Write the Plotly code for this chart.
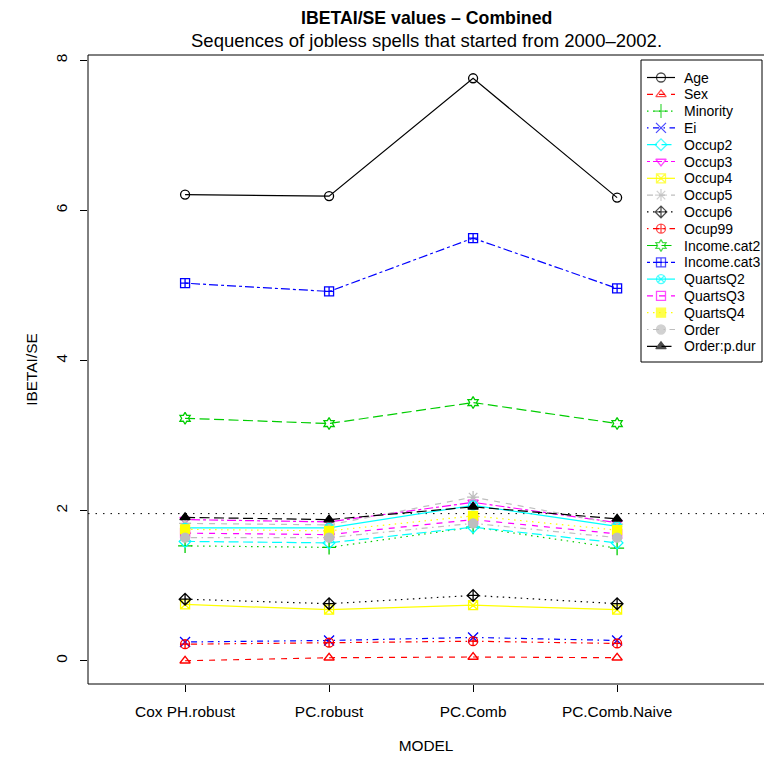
import plotly.graph_objects as go

models = ["Cox PH.robust", "PC.robust", "PC.Comb", "PC.Comb.Naive"]
xpos = [1, 2, 3, 4]

series_names = ["Age", "Sex", "Minority", "Ei", "Occup2", "Occup3", "Occup4", "Occup5",
                "Occup6", "Ocup99", "Income.cat2", "Income.cat3", "QuartsQ2", "QuartsQ3",
                "QuartsQ4", "Order", "Order:p.dur"]

age = [6.21, 6.19, 7.76, 6.17]
sex = [0.00, 0.04, 0.05, 0.04]
minority = [1.53, 1.51, 1.78, 1.50]
ei = [0.25, 0.27, 0.31, 0.27]
occup2 = [1.59, 1.57, 1.78, 1.57]
occup3 = [1.88, 1.85, 2.11, 1.84]
occup4 = [0.75, 0.68, 0.74, 0.68]
occup5 = [1.83, 1.81, 2.18, 1.82]
occup6 = [0.82, 0.76, 0.87, 0.76]
ocup99 = [0.22, 0.24, 0.26, 0.23]
income_cat2 = [3.23, 3.16, 3.44, 3.16]
income_cat3 = [5.03, 4.92, 5.63, 4.96]
quartsq2 = [1.77, 1.77, 2.07, 1.79]
quartsq3 = [1.70, 1.68, 1.88, 1.69]
quartsq4 = [1.75, 1.73, 1.93, 1.74]
order = [1.64, 1.64, 1.83, 1.64]
order_pdur = [1.91, 1.88, 2.05, 1.89]

values = [age, sex, minority, ei, occup2, occup3, occup4, occup5, occup6, ocup99,
          income_cat2, income_cat3, quartsq2, quartsq3, quartsq4, order, order_pdur]

palette = ["#000000", "#FF0000", "#00CD00", "#0000FF", "#00FFFF", "#FF00FF", "#FFFF00", "#BEBEBE"]
dashes = ["solid", "6px,6px", "1.5px,4.5px", "1.5px,4.5px,6px,4.5px", "10px,4.5px", "3px,3px,9px,3px"]
symbols = ["circle-open", "triangle-up-open", "cross-thin-open", "x-thin-open", "diamond-open",
           "triangle-down-open", "square-x-open", "asterisk-open", "diamond-cross-open",
           "circle-cross-open", "hexagram-open", "square-cross-open", "circle-x-open",
           "square-open", "square", "circle", "triangle-up"]

FONT = "Liberation Sans, Arial, Helvetica, sans-serif"

# pixel-space overlay for the legend box (plot area spans x 88..764, y 55..684)
PX_L, PX_R, PX_T, PX_B = 88, 764, 55, 684
LEG_L, LEG_R, LEG_T, LEG_B = 641, 762, 60, 362
LEG_Y0, LEG_STEP = 77.5, 16.8

fig = go.Figure()
for i, (name, vals) in enumerate(zip(series_names, values)):
    col = palette[i % 8]
    sym = symbols[i]
    thin = sym.endswith("thin-open") or sym == "asterisk-open"
    msize = 10 if thin else 9
    fig.add_trace(go.Scatter(
        x=xpos, y=vals, name=name, mode="lines+markers", showlegend=False,
        line=dict(color=col, width=1.2, dash=dashes[i % 6]),
        marker=dict(symbol=sym, size=msize, color=col, line=dict(color=col, width=1.3)),
    ))

# legend entries (drawn in pixel overlay axes)
for i, name in enumerate(series_names):
    col = palette[i % 8]
    sym = symbols[i]
    thin = sym.endswith("thin-open") or sym == "asterisk-open"
    msize = 10 if thin else 9
    yc = LEG_Y0 + LEG_STEP * i
    fig.add_trace(go.Scatter(
        x=[647, 661, 675], y=[yc, yc, yc], xaxis="x2", yaxis="y2", mode="lines+markers",
        showlegend=False, hoverinfo="skip",
        line=dict(color=col, width=1.2, dash=dashes[i % 6]),
        marker=dict(symbol=sym, size=[0, msize, 0], color=col, line=dict(color=col, width=1.3)),
    ))
    fig.add_annotation(text=name, xref="x2", yref="y2", x=682, y=yc, showarrow=False,
                       xanchor="left", yanchor="middle",
                       font=dict(family=FONT, size=14, color="black"))

fig.add_shape(type="rect", xref="x2", yref="y2", x0=LEG_L, x1=LEG_R, y0=LEG_T, y1=LEG_B,
              line=dict(color="black", width=1), fillcolor="white", layer="below")

# reference line at 1.96
fig.add_shape(type="line", xref="paper", yref="y", x0=0, x1=1, y0=1.96, y1=1.96,
              line=dict(color="black", width=1, dash="1.5px,6px"), layer="below")
# plot box (right side falls outside canvas)
fig.add_shape(type="rect", xref="paper", yref="paper", x0=0, x1=1.01, y0=0, y1=1,
              line=dict(color="black", width=1), layer="above")

fig.add_annotation(text="<b>IBETAI/SE values \u2013 Combined</b>", xref="paper", yref="paper",
                   x=0.5, y=1, yshift=37, showarrow=False,
                   font=dict(family=FONT, size=17.7, color="black"), xanchor="center", yanchor="middle")
fig.add_annotation(text="Sequences of jobless spells that started from 2000\u20132002.", xref="paper", yref="paper",
                   x=0.5, y=1, yshift=15, showarrow=False,
                   font=dict(family=FONT, size=18.5, color="black"), xanchor="center", yanchor="middle")

fig.update_layout(
    width=764, height=758,
    margin=dict(l=PX_L, r=764 - PX_R, t=PX_T, b=758 - PX_B),
    paper_bgcolor="white", plot_bgcolor="white",
    font=dict(family=FONT, size=15, color="black"),
    showlegend=False,
    xaxis=dict(range=[0.326, 5.02], tickmode="array", tickvals=xpos, ticktext=models,
               ticks="outside", ticklen=7, tickcolor="black", showgrid=False, zeroline=False,
               showline=False, ticklabelstandoff=7,
               title=dict(text="MODEL", font=dict(family=FONT, size=15.4), standoff=20),
               tickfont=dict(family=FONT, size=15.4)),
    yaxis=dict(range=[-0.31, 8.07], tickmode="array", tickvals=[0, 2, 4, 6, 8],
               ticks="outside", ticklen=7, tickcolor="black", showgrid=False, zeroline=False,
               showline=False, tickangle=-90, ticklabelstandoff=7,
               title=dict(text="IBETAI/SE", font=dict(family=FONT, size=15.4), standoff=11),
               tickfont=dict(family=FONT, size=15.4)),
    xaxis2=dict(overlaying="x", range=[PX_L, PX_R], visible=False, fixedrange=True),
    yaxis2=dict(overlaying="y", range=[PX_B, PX_T], visible=False, fixedrange=True),
)

fig.write_html("out.html")
